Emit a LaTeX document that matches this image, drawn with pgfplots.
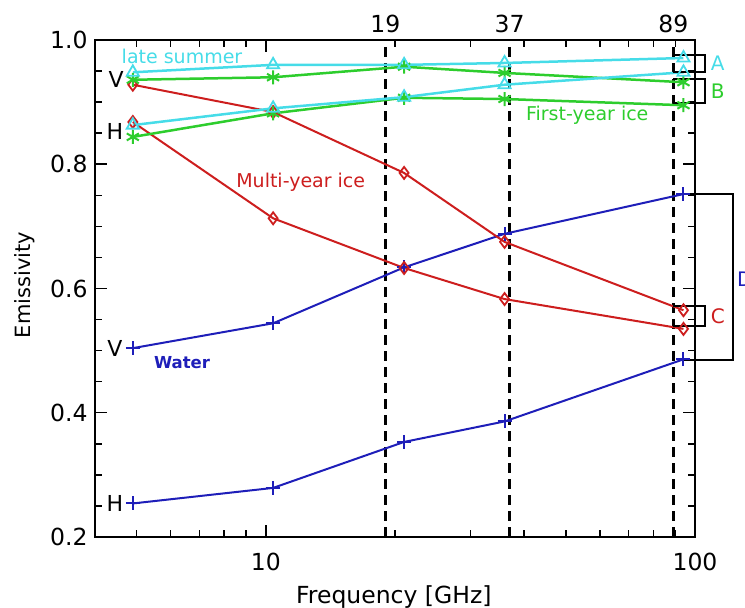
\documentclass[border=0pt]{standalone}
\usepackage{fontspec}
\setmainfont{DejaVu Sans}
\usepackage{pgfplots}
\pgfplotsset{compat=1.18}
\definecolor{cy}{RGB}{70,220,232}
\definecolor{gr}{RGB}{45,205,45}
\definecolor{rd}{RGB}{205,30,30}
\definecolor{bl}{RGB}{30,30,185}
\begin{document}
\begin{tikzpicture}
\useasboundingbox (-95pt,-71pt) rectangle (650pt,537pt);
\begin{axis}[
  scale only axis, width=600pt, height=497pt,
  xmode=log, xmin=4, xmax=100, ymin=0.2, ymax=1.0,
  xtick={10,100}, xticklabels={10,100},
  minor xtick={5,6,7,8,9,20,30,40,50,60,70,80,90},
  ytick={0.2,0.4,0.6,0.8,1.0}, minor y tick num=3,
  /pgf/number format/assume math mode=true,
  yticklabel style={xshift=-4pt, /pgf/number format/fixed, /pgf/number format/fixed zerofill, /pgf/number format/precision=1},
  tick label style={font=\fontsize{23.5}{26}\selectfont},
  xticklabel style={yshift=-13pt},
  tick align=inside, major tick length=12pt, minor tick length=7pt,
  every tick/.style={black, line width=1.5pt},
  axis line style={line width=2pt},
  clip=false,
  xlabel={Frequency [GHz]}, ylabel={Emissivity},
  xlabel style={font=\fontsize{23.5}{26}\selectfont, at={(axis description cs:0.498,-0.1207)}, anchor=center},
  ylabel style={font=\fontsize{21}{24}\selectfont, at={(axis description cs:-0.1167,0.507)}, anchor=center},
]
% dashed channel lines
\addplot[black, line width=2.5pt, dash pattern=on 10pt off 6pt] coordinates {(19,0.2) (19,1.0)};
\addplot[black, line width=2.5pt, dash pattern=on 10pt off 6pt] coordinates {(37,0.2) (37,1.0)};
\addplot[black, line width=2.5pt, dash pattern=on 10pt off 6pt] coordinates {(89,0.2) (89,1.0)};
% Water
\addplot[bl, line width=2pt, mark=+, mark size=7pt, mark options={line width=2pt}] coordinates {(4.9,0.504) (10.4,0.544) (21,0.634) (36,0.688) (94,0.752)};
\addplot[bl, line width=2pt, mark=+, mark size=7pt, mark options={line width=2pt}] coordinates {(4.9,0.254) (10.4,0.279) (21,0.353) (36,0.386) (94,0.486)};
% Multi-year ice
\addplot[rd, line width=2pt, mark=diamond, mark size=6pt, mark options={line width=1.8pt}] coordinates {(4.9,0.928) (10.4,0.884) (21,0.786) (36,0.675) (94,0.565)};
\addplot[rd, line width=2pt, mark=diamond, mark size=6pt, mark options={line width=1.8pt}] coordinates {(4.9,0.868) (10.4,0.713) (21,0.633) (36,0.583) (94,0.535)};
% First-year ice
\addplot[gr, line width=2.5pt, mark=asterisk, mark size=7pt, mark options={line width=2pt}] coordinates {(4.9,0.936) (10.4,0.940) (21,0.957) (36,0.947) (94,0.932)};
\addplot[gr, line width=2.5pt, mark=asterisk, mark size=7pt, mark options={line width=2pt}] coordinates {(4.9,0.844) (10.4,0.882) (21,0.907) (36,0.905) (94,0.895)};
% late summer
\addplot[cy, line width=2.5pt, mark=triangle, mark size=7pt, mark options={line width=1.8pt}] coordinates {(4.9,0.948) (10.4,0.960) (21,0.960) (36,0.963) (94,0.971)};
\addplot[cy, line width=2.5pt, mark=triangle, mark size=7pt, mark options={line width=1.8pt}] coordinates {(4.9,0.863) (10.4,0.890) (21,0.908) (36,0.928) (94,0.948)};
% brackets
\draw[black, line width=2pt] (axis cs:89,0.976) -- (axis cs:105.5,0.976) -- (axis cs:105.5,0.948) -- (axis cs:89,0.948);
\draw[black, line width=2pt] (axis cs:89,0.937) -- (axis cs:105.5,0.937) -- (axis cs:105.5,0.899) -- (axis cs:89,0.899);
\draw[black, line width=2pt] (axis cs:89,0.572) -- (axis cs:105.5,0.572) -- (axis cs:105.5,0.539) -- (axis cs:89,0.539);
\draw[black, line width=2pt] (axis cs:94,0.752) -- (axis cs:122.4,0.752) -- (axis cs:122.4,0.485) -- (axis cs:94,0.485);
\node[cy, font=\fontsize{20}{22}\selectfont] at (axis cs:113,0.962) {A};
\node[gr, font=\fontsize{20}{22}\selectfont] at (axis cs:113,0.918) {B};
\node[rd, font=\fontsize{20}{22}\selectfont] at (axis cs:113,0.556) {C};
\node[bl, font=\fontsize{20}{22}\selectfont, anchor=west, inner sep=0pt] at (axis cs:125.3,0.615) {D};
% top labels
\node[font=\fontsize{23.5}{26}\selectfont] at (axis cs:19,1.0) [yshift=16pt] {19};
\node[font=\fontsize{23.5}{26}\selectfont] at (axis cs:37,1.0) [yshift=16pt] {37};
\node[font=\fontsize{23.5}{26}\selectfont] at (axis cs:89,1.0) [yshift=16pt] {89};
% series labels
\node[cy, font=\fontsize{19}{21}\selectfont] at (axis cs:6.38,0.973) {late summer};
\node[rd, font=\fontsize{19}{21}\selectfont] at (axis cs:12.06,0.771) {Multi-year ice};
\node[gr, font=\fontsize{19}{21}\selectfont] at (axis cs:56.1,0.879) {First-year ice};
\node[bl, font=\bfseries\fontsize{16.5}{19}\selectfont] at (axis cs:6.38,0.481) {Water};
% V/H labels
\node[font=\fontsize{22}{24}\selectfont] at (axis cs:4.48,0.936) {V};
\node[font=\fontsize{22}{24}\selectfont] at (axis cs:4.45,0.852) {H};
\node[font=\fontsize{22}{24}\selectfont] at (axis cs:4.45,0.504) {V};
\node[font=\fontsize{22}{24}\selectfont] at (axis cs:4.45,0.254) {H};
\end{axis}
\end{tikzpicture}
\end{document}
